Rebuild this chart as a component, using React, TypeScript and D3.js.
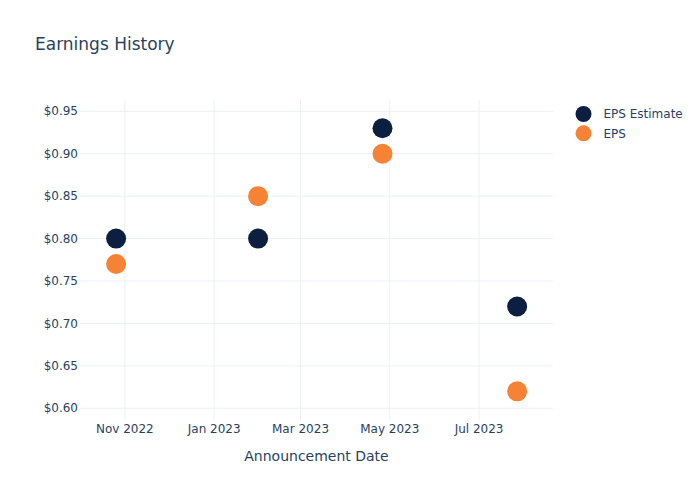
import React from "react";
import * as d3 from "d3";

const dates = ["2022-10-26", "2023-01-31", "2023-04-26", "2023-07-27"];
const epsEstimate = [0.8, 0.8, 0.93, 0.72];
const epsActual = [0.77, 0.85, 0.9, 0.62];
const yTicks = [0.6, 0.65, 0.7, 0.75, 0.8, 0.85, 0.9, 0.95];
const xTickDates = ["2022-11-01", "2023-01-01", "2023-03-01", "2023-05-01", "2023-07-01"];
const seriesNames = ["EPS Estimate", "EPS"];
const seriesColors = ["#0c1f41", "#f68236"];

const W = 700, H = 500;
const M = { l: 80, r: 147, t: 100, b: 80 };
const FONT = "'DejaVu Sans', Verdana, sans-serif";
const TXT = "#2a3f5f";

const parse = d3.utcParse("%Y-%m-%d");

export default function App() {
  const x = d3
    .scaleUtc()
    .domain([new Date(Date.UTC(2022, 9, 1, 8)), new Date(Date.UTC(2023, 7, 20, 12))])
    .range([M.l, W - M.r]);
  const y = d3.scaleLinear().domain([0.5862, 0.9633]).range([H - M.b, M.t]);
  const fmtX = d3.utcFormat("%b %Y");
  const series = [epsEstimate, epsActual];

  return (
    <svg width={W} height={H} style={{ position: "absolute", left: 0, top: 0, background: "#fff" }}>
      <rect x={0} y={0} width={W} height={H} fill="#fff" />
      {xTickDates.map((d) => {
        const xx = x(parse(d)!);
        return (
          <g key={d}>
            <line x1={xx} x2={xx} y1={M.t} y2={H - M.b} stroke="#ebf0f8" strokeWidth={1} />
            <text x={xx} y={H - M.b + 13} textAnchor="middle" fontFamily={FONT} fontSize={12} fill={TXT}>
              {fmtX(parse(d)!)}
            </text>
          </g>
        );
      })}
      {yTicks.map((t) => {
        const yy = y(t);
        return (
          <g key={t}>
            <line x1={M.l} x2={W - M.r} y1={yy} y2={yy} stroke="#ebf0f8" strokeWidth={1} />
            <text x={M.l - 2} y={yy} dy="0.35em" textAnchor="end" fontFamily={FONT} fontSize={12} fill={TXT}>
              {"$" + t.toFixed(2)}
            </text>
          </g>
        );
      })}
      {series.map((vals, si) =>
        vals.map((v, i) => (
          <circle key={si + "-" + i} cx={x(parse(dates[i])!)} cy={y(v)} r={10} fill={seriesColors[si]} />
        ))
      )}
      <text x={35} y={50} fontFamily={FONT} fontSize={17} fill={TXT}>
        Earnings History
      </text>
      <text x={(M.l + W - M.r) / 2} y={461} textAnchor="middle" fontFamily={FONT} fontSize={14} fill={TXT}>
        Announcement Date
      </text>
      {seriesNames.map((n, i) => (
        <g key={n} transform={`translate(583.5, ${114 + i * 19.3})`}>
          <circle cx={0} cy={0} r={8} fill={seriesColors[i]} />
          <text x={20} y={0} dy="0.35em" fontFamily={FONT} fontSize={12} fill={TXT}>
            {n}
          </text>
        </g>
      ))}
    </svg>
  );
}
